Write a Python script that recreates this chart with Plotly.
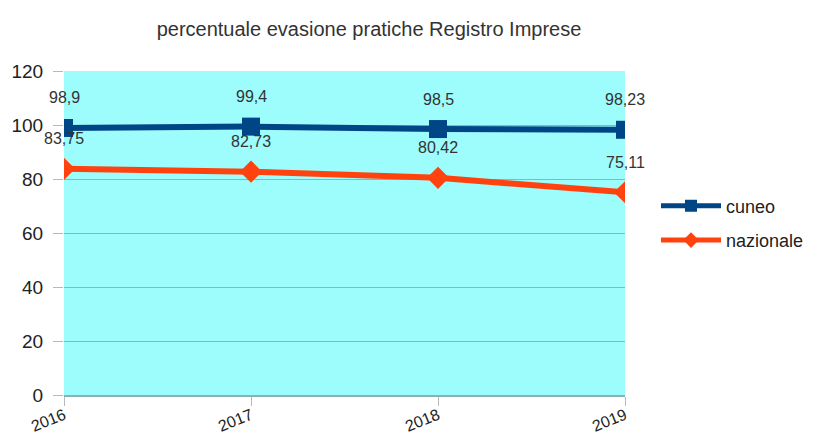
import plotly.graph_objects as go

years = ["2016", "2017", "2018", "2019"]
cuneo = [98.9, 99.4, 98.5, 98.23]
nazionale = [83.75, 82.73, 80.42, 75.11]
y_ticks = [0, 20, 40, 60, 80, 100, 120]

def fmt(v):
    return ("%g" % v).replace(".", ",")

x_idx = list(range(len(years)))

fig = go.Figure()
fig.add_trace(go.Scatter(
    x=x_idx, y=cuneo, name="cuneo", mode="lines+markers", legendgroup="a",
    line=dict(color="#004586", width=6),
    marker=dict(symbol="square", size=18, color="#004586"),
))
fig.add_trace(go.Scatter(
    x=x_idx, y=nazionale, name="nazionale", mode="lines+markers", legendgroup="b",
    line=dict(color="#FF420E", width=6),
    marker=dict(symbol="diamond", size=17, color="#FF420E"),
))

for vals in (cuneo, nazionale):
    for xi, v in zip(x_idx, vals):
        fig.add_annotation(x=xi, y=v, text=fmt(v), showarrow=False,
                           yshift=30, font=dict(size=16, color="#333333",
                                                family="Liberation Sans"))

fig.update_layout(
    width=820, height=448,
    paper_bgcolor="white", plot_bgcolor="#9DFCFC",
    margin=dict(l=64, r=195, t=71, b=53, autoexpand=False),
    title=dict(text="percentuale evasione pratiche Registro Imprese",
               xref="container", x=0.45, xanchor="center",
               yref="container", y=1 - 29 / 448, yanchor="middle",
               font=dict(size=20, color="#333333", family="Liberation Sans")),
    font=dict(family="Liberation Sans", color="#333333"),
    legend=dict(xref="container", x=656 / 820, xanchor="left",
                yref="container", y=1 - 223 / 448, yanchor="middle",
                font=dict(size=18, color="#222222"), bgcolor="rgba(0,0,0,0)",
                itemwidth=60, itemsizing="constant", tracegroupgap=8),
    showlegend=True,
)
fig.update_xaxes(
    tickmode="array", tickvals=x_idx, ticktext=years, range=[0, 3],
    showgrid=False, zeroline=False, ticks="outside", ticklen=9,
    ticklabelstandoff=-6,
    tickcolor="#b8b8b8", tickangle=-22, tickfont=dict(size=16, color="#222222"),
    showline=True, linecolor="#8fb0b0", linewidth=2, automargin=False,
)
fig.update_yaxes(
    range=[0, 120], tickvals=y_ticks, showgrid=True, gridcolor="#79BDBD",
    gridwidth=1, zeroline=False, ticks="outside", ticklen=10, tickcolor="#b8b8b8",
    ticklabelstandoff=6,
    tickfont=dict(size=19, color="#222222"), showline=False, automargin=False,
)

fig.write_html("out.html", config={"displayModeBar": False},
               post_script="document.body.style.margin='0';")
